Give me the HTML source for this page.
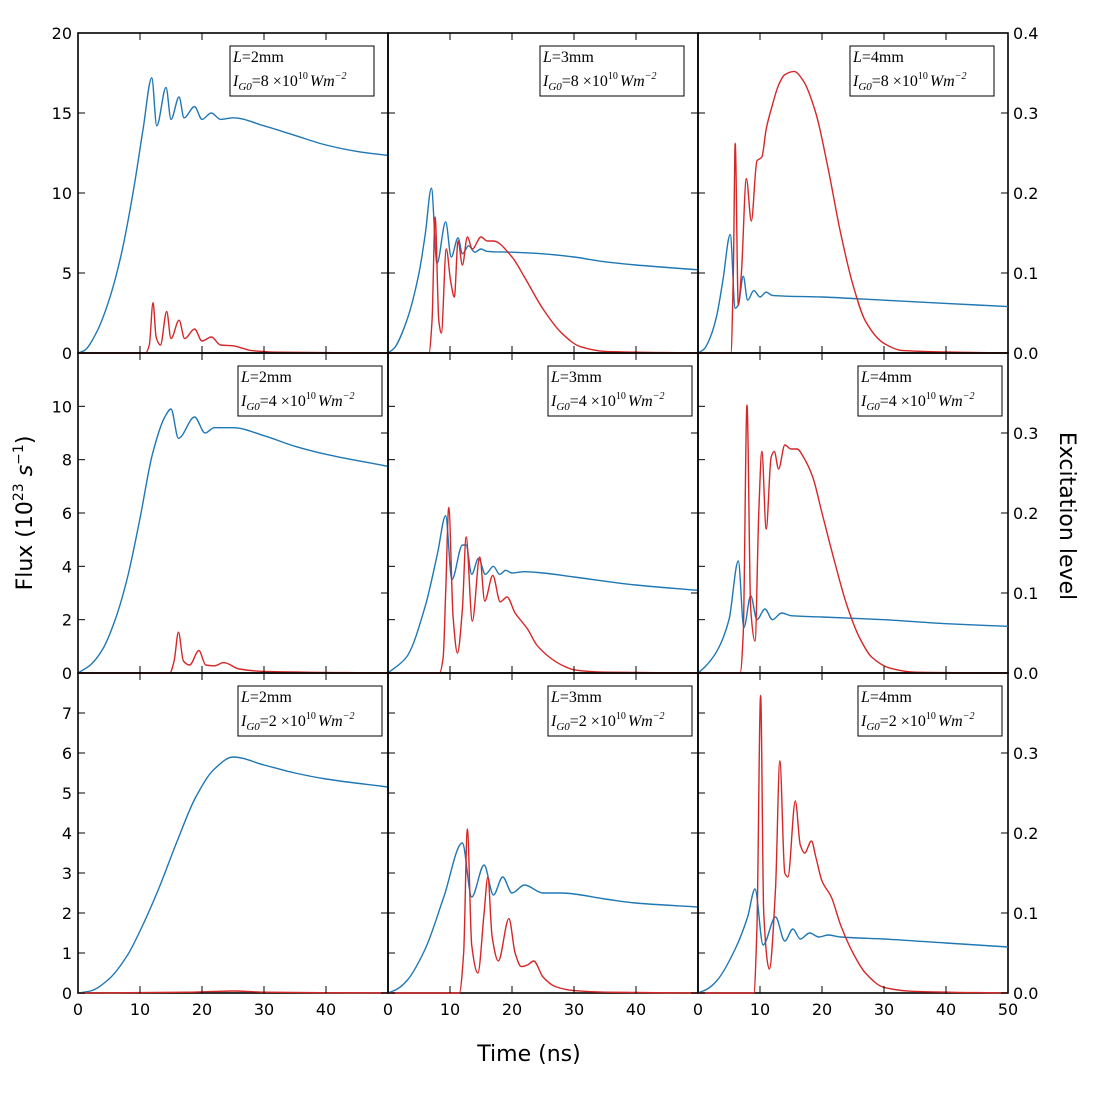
<!DOCTYPE html>
<html><head><meta charset="utf-8">
<style>
body{margin:0;background:#fff;}
svg text{font-family:"DejaVu Sans","Liberation Sans",sans-serif;}
.leg{font-family:"Liberation Serif",serif;font-style:italic;}
</style></head>
<body>
<svg id="chart" width="1093" height="1093" xmlns="http://www.w3.org/2000/svg"></svg>
<script>
// ---- data: [time ns, value] ; blue = flux (10^23 s^-1), red = excitation level
const panelL = [2,3,4];
const panelI = [8,4,2];
const leftMax = [20,12,8];
const leftTicks = [[0,5,10,15,20],[0,2,4,6,8,10],[0,1,2,3,4,5,6,7]];
const rightTicks = [0,0.1,0.2,0.3,0.4];
const rightTickLabels = ["0.0","0.1","0.2","0.3","0.4"];
const xTicks = [0,10,20,30,40,50];

const blue11=[[0,0],[1,0.15],[3,1.3],[5,3.3],[7,6.2],[9,10.3],[10.5,14],[11.9,17.2],[12.7,14.2],[14.2,16.6],[15,14.6],[16.3,16.0],[17.1,14.7],[18.8,15.4],[20,14.6],[21.5,15.0],[23,14.6],[25,14.7],[30,14.2],[35,13.6],[40,13.0],[45,12.6],[50,12.35]];
const red11=[[0,0],[10.9,0],[11.5,0.01],[12.1,0.063],[12.6,0.02],[13.3,0.01],[14.3,0.052],[15,0.018],[16.3,0.041],[17.2,0.018],[18.8,0.03],[20,0.015],[21.5,0.02],[23,0.01],[25,0.009],[28,0.003],[32,0.001],[50,0]];
const blue12=[[0,0],[1,0.3],[3,2],[5,5],[6,7.4],[7,10.3],[7.9,5.6],[9.3,8.2],[10.2,6.0],[11.3,7.2],[12,6.2],[13,6.7],[14,6.3],[15,6.5],[16,6.35],[20,6.3],[25,6.2],[30,6.0],[35,5.7],[40,5.5],[50,5.2]];
const red12=[[0,0],[6.6,0],[7.1,0.04],[7.6,0.17],[8.2,0.04],[8.6,0.025],[9.4,0.13],[10.1,0.09],[10.7,0.07],[11.3,0.14],[12,0.11],[12.8,0.145],[13.6,0.13],[15,0.145],[16,0.14],[17,0.14],[20,0.12],[22,0.095],[25,0.055],[28,0.025],[31,0.008],[35,0.002],[50,0]];
const blue13=[[0,0],[1,0.25],[2,1],[3,2.3],[4,4.5],[5.2,7.4],[6,2.8],[6.5,3.0],[7.3,4.8],[8,3.3],[9,3.9],[10,3.5],[11,3.8],[12,3.6],[20,3.5],[30,3.3],[40,3.1],[50,2.9]];
const red13=[[0,0],[5.3,0],[5.7,0.1],[6,0.262],[6.5,0.06],[7,0.1],[7.8,0.218],[8.6,0.165],[9.5,0.24],[10.3,0.245],[11,0.28],[12,0.31],[13,0.335],[14,0.348],[15.5,0.352],[17,0.34],[19,0.3],[21,0.23],[23,0.15],[25,0.085],[27,0.04],[30,0.012],[33,0.003],[50,0]];
const blue21=[[0,0],[2,0.3],[4,0.9],[6,2.0],[8,3.6],[10,5.8],[12,8.2],[14,9.6],[15,9.9],[16.2,8.8],[18.8,9.6],[20.5,9.0],[22,9.2],[25,9.2],[30,8.9],[35,8.5],[40,8.2],[50,7.75]];
const red21=[[0,0],[14.8,0],[15.5,0.015],[16.2,0.051],[17,0.015],[18,0.01],[19.5,0.028],[20.6,0.01],[22,0.009],[23.5,0.013],[26,0.005],[30,0.002],[50,0]];
const blue22=[[0,0],[3,0.6],[6,2.5],[8,4.5],[9.3,5.9],[10.3,3.5],[12,4.8],[12.6,4.8],[13.5,3.7],[14.6,4.3],[15.7,3.7],[17,4.0],[18,3.7],[19,3.85],[20,3.75],[22,3.8],[25,3.75],[30,3.6],[40,3.3],[50,3.1]];
const red22=[[0,0],[8.3,0],[8.9,0.02],[9.3,0.1],[9.8,0.207],[10.5,0.07],[11.2,0.025],[12,0.08],[12.6,0.17],[13.6,0.065],[14.8,0.145],[15.6,0.09],[16.9,0.122],[18.1,0.089],[19.2,0.095],[20.5,0.075],[21.5,0.065],[22.5,0.055],[24,0.035],[26,0.02],[28,0.01],[30,0.004],[35,0.001],[50,0]];
const blue23=[[0,0],[1,0.2],[3,0.8],[5,2],[6.5,4.2],[7.4,1.7],[8.5,2.9],[9.5,2.0],[10.8,2.4],[12,2.0],[13.5,2.25],[15,2.15],[20,2.1],[30,2.0],[40,1.85],[50,1.75]];
const red23=[[0,0],[6.8,0],[7.3,0.05],[7.9,0.335],[8.5,0.08],[9.2,0.04],[9.8,0.2],[10.3,0.277],[11,0.18],[11.8,0.27],[12.3,0.277],[13,0.255],[14,0.285],[15,0.28],[16,0.28],[17,0.27],[18.5,0.245],[20,0.2],[22,0.14],[24,0.085],[26,0.045],[28,0.02],[31,0.006],[35,0.001],[50,0]];
const blue31=[[0,0],[2,0.05],[5,0.35],[8,0.95],[10,1.55],[13,2.6],[16,3.8],[19,4.9],[22,5.6],[25,5.9],[30,5.7],[35,5.5],[40,5.35],[50,5.15]];
const red31=[[0,0],[18,0.001],[22,0.002],[25,0.0025],[30,0.001],[50,0]];
const blue32=[[0,0],[1.5,0.1],[3,0.3],[6,1.1],[9,2.4],[12,3.75],[13.5,2.4],[15.5,3.2],[17,2.45],[18.5,2.9],[20,2.5],[22,2.7],[25,2.5],[28,2.5],[35,2.35],[40,2.25],[50,2.15]];
const red32=[[0,0],[11.5,0],[12.2,0.05],[12.8,0.205],[13.5,0.06],[14.5,0.025],[15.5,0.1],[16.1,0.145],[16.8,0.07],[17.8,0.04],[19.5,0.093],[20.5,0.05],[21.5,0.033],[22.5,0.035],[23.5,0.04],[25,0.02],[27,0.008],[30,0.003],[35,0.001],[50,0]];
const blue33=[[0,0],[1.5,0.1],[3,0.3],[6,1.1],[8,1.9],[9.2,2.6],[10.5,1.2],[12.5,1.9],[14,1.3],[15.3,1.6],[16.5,1.35],[18,1.5],[19.5,1.4],[21,1.45],[23,1.4],[30,1.35],[40,1.25],[50,1.15]];
const red33=[[0,0],[9,0],[9.5,0.08],[10.1,0.372],[10.6,0.1],[11.5,0.03],[12.5,0.13],[13.2,0.29],[14,0.15],[14.5,0.145],[15.7,0.24],[16.5,0.185],[17.2,0.175],[18.3,0.19],[19,0.17],[20,0.14],[21.5,0.12],[23,0.085],[25,0.05],[27,0.025],[30,0.007],[35,0.002],[50,0]];
const blues=[[blue11,blue12,blue13],[blue21,blue22,blue23],[blue31,blue32,blue33]];
const reds=[[red11,red12,red13],[red21,red22,red23],[red31,red32,red33]];

const NS="http://www.w3.org/2000/svg";
const svg=document.getElementById('chart');
function mk(tag,attrs,parent){const e=document.createElementNS(NS,tag);for(const k in attrs)e.setAttribute(k,attrs[k]);(parent||svg).appendChild(e);return e;}
const X0=78,PW=310,Y0=33,PH=320;
function monoPath(pts,fx,fy){
  const n=pts.length,xs=pts.map(p=>p[0]),ys=pts.map(p=>p[1]);
  const d=[],m=new Array(n);
  for(let i=0;i<n-1;i++)d.push((ys[i+1]-ys[i])/(xs[i+1]-xs[i]));
  m[0]=d[0];m[n-1]=d[n-2];
  for(let i=1;i<n-1;i++){ if(d[i-1]*d[i]<=0)m[i]=0; else {const h0=xs[i]-xs[i-1],h1=xs[i+1]-xs[i];const w1=2*h1+h0,w2=h1+2*h0;m[i]=(w1+w2)/(w1/d[i-1]+w2/d[i]);} }
  let s='M'+fx(xs[0]).toFixed(2)+','+fy(ys[0]).toFixed(2);
  for(let i=0;i<n-1;i++){const h=xs[i+1]-xs[i];
    s+=' C'+fx(xs[i]+h/3).toFixed(2)+','+fy(ys[i]+m[i]*h/3).toFixed(2)+' '+fx(xs[i+1]-h/3).toFixed(2)+','+fy(ys[i+1]-m[i+1]*h/3).toFixed(2)+' '+fx(xs[i+1]).toFixed(2)+','+fy(ys[i+1]).toFixed(2);}
  return s;
}
for(let r=0;r<3;r++){for(let c=0;c<3;c++){
  const px=X0+c*PW,py=Y0+r*PH;
  const g=mk('g',{});
  
  
  const fx=t=>px+t/50*PW;
  const fyL=v=>py+PH-v/leftMax[r]*PH;
  const fyR=v=>py+PH-v/0.4*PH;
  mk('rect',{x:px,y:py,width:PW,height:PH,fill:'none',stroke:'#000','stroke-width':1.6},g);
  const cp=mk('clipPath',{id:'cp'+r+c},g);mk('rect',{x:px,y:py-1,width:PW,height:PH+2},cp);
  const bl=mk('path',{d:monoPath(blues[r][c],fx,fyL),fill:'none',stroke:'#1f77b4','stroke-width':1.4,'clip-path':'url(#cp'+r+c+')'},g);
  
  
  const rd=mk('path',{d:monoPath(reds[r][c],fx,fyR),fill:'none',stroke:'#d62728','stroke-width':1.4,'clip-path':'url(#cp'+r+c+')'},g);
  
  
  xTicks.forEach(t=>{const x=fx(t);
    mk('line',{x1:x,x2:x,y1:py+PH,y2:py+PH-7,stroke:'#000'},g);
    mk('line',{x1:x,x2:x,y1:py,y2:py+7,stroke:'#000'},g);
    if(r===2&&(t<50||c===2)){const tx=mk('text',{x:x,y:py+PH+22,'text-anchor':'middle','font-size':16},g);tx.textContent=t;
      
      }
  });
  const lt=leftTicks[r];
  for(let v=0;v<=leftMax[r];v+=lt[1]-lt[0]){const y=fyL(v);
    mk('line',{x1:px,x2:px+7,y1:y,y2:y,stroke:'#000'},g);
    if(c===0&&lt.indexOf(v)>=0){const tx=mk('text',{x:px-6,y:y+6,'text-anchor':'end','font-size':16},g);tx.textContent=v;
      
      }}
  rightTicks.forEach((v,i)=>{const y=fyR(v);
    mk('line',{x1:px+PW,x2:px+PW-7,y1:y,y2:y,stroke:'#000'},g);
    if(c===2&&!(r>0&&i===4)){const tx=mk('text',{x:px+PW+5,y:y+6,'font-size':16},g);tx.textContent=rightTickLabels[i];
      
      }});
  const lx=px+(r===0?152:160),ly=py+13;
  const lg=mk('g',{},g);
  
  
  mk('rect',{x:lx,y:ly,width:144,height:50,fill:'#fff',stroke:'#000','stroke-width':1},lg);
  const t1=mk('text',{x:lx+3,y:ly+16,'font-size':16,class:'leg'},lg);
  t1.innerHTML='L<tspan font-style="normal">=2mm</tspan>'.replace('2',panelL[c]);
  const t2=mk('text',{x:lx+3,y:ly+40,'font-size':16,class:'leg'},lg);
  t2.innerHTML='I<tspan font-size="11" dy="4">G0</tspan><tspan font-style="normal" dy="-4">='+panelI[r]+' ×10</tspan><tspan font-style="normal" font-size="10" dy="-7">10</tspan><tspan dy="7" dx="2">Wm</tspan><tspan font-size="10" dy="-7">−2</tspan>';
}}
const yl=mk('text',{x:0,y:0,'font-size':22,'text-anchor':'middle',transform:'translate(32,513) rotate(-90)'});
yl.innerHTML='Flux (10<tspan font-size="14" dy="-9">23</tspan><tspan dy="9" font-style="italic"> s</tspan><tspan font-size="14" dy="-9">−1</tspan><tspan dy="9">)</tspan>';


const yr=mk('text',{x:0,y:0,'font-size':22,'text-anchor':'middle',transform:'translate(1060,516) rotate(90)'});
yr.textContent='Excitation level';


const xl=mk('text',{x:529,y:1061,'font-size':22,'text-anchor':'middle'});
xl.textContent='Time (ns)';


</script>
</body></html>
